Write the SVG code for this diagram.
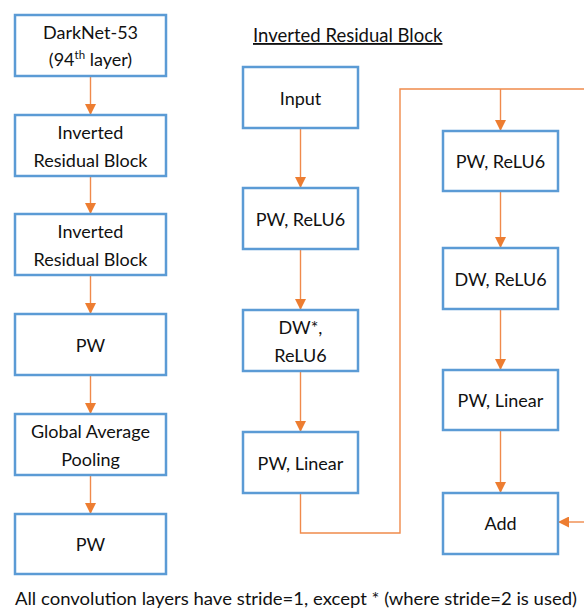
<svg xmlns="http://www.w3.org/2000/svg" width="584" height="615" viewBox="0 0 584 615">
  <defs>
    <marker id="arrow" markerUnits="userSpaceOnUse" markerWidth="11" markerHeight="11" viewBox="0 0 11 11" refX="11" refY="5.5" orient="auto">
      <path d="M0,0 L11,5.5 L0,11 Z" fill="#ED7D31"/>
    </marker>
  </defs>
  <style>
    .box { fill: #ffffff; stroke: #5B9BD5; stroke-width: 2.5; }
    .lbl { font-family: "Lato", "Open Sans", "Liberation Sans", sans-serif; font-size: 18px; fill: #111111; text-anchor: middle; }
    .conn { fill: none; stroke: #F08A4B; stroke-width: 1.4; }
    .arr { marker-end: url(#arrow); }
    .title { font-family: "Lato", "Open Sans", "Liberation Sans", sans-serif; font-size: 18.5px; fill: #111111; text-decoration: underline; }
    .note { font-family: "Lato", "Open Sans", "Liberation Sans", sans-serif; font-size: 18px; fill: #111111; }
  </style>

  <rect width="584" height="615" fill="#ffffff"/>

  <!-- connectors -->
  <g id="connectors">
    <!-- main pipeline -->
    <line class="conn arr" x1="90.5" y1="76" x2="90.5" y2="115"/>
    <line class="conn arr" x1="90.5" y1="176" x2="90.5" y2="214"/>
    <line class="conn arr" x1="90.5" y1="275" x2="90.5" y2="314"/>
    <line class="conn arr" x1="90.5" y1="375" x2="90.5" y2="414"/>
    <line class="conn arr" x1="90.5" y1="475" x2="90.5" y2="514"/>
    <!-- block, first half -->
    <line class="conn arr" x1="300.5" y1="128" x2="300.5" y2="188"/>
    <line class="conn arr" x1="300.5" y1="249" x2="300.5" y2="310"/>
    <line class="conn arr" x1="300.5" y1="371" x2="300.5" y2="432"/>
    <!-- wrap into second half -->
    <path class="conn" d="M300.5,493 V533 H400 V89 H584"/>
    <line class="conn arr" x1="500.5" y1="89" x2="500.5" y2="131"/>
    <!-- block, second half -->
    <line class="conn arr" x1="500.5" y1="191" x2="500.5" y2="248"/>
    <line class="conn arr" x1="500.5" y1="309" x2="500.5" y2="370"/>
    <line class="conn arr" x1="500.5" y1="430" x2="500.5" y2="493"/>
    <!-- skip connection into Add -->
    <line class="conn arr" x1="584" y1="522" x2="558" y2="522"/>
  </g>

  <!-- main pipeline -->
  <g id="darknet">
    <rect class="box" x="15" y="15" width="151" height="61"/>
    <text class="lbl" x="90.5" y="39">DarkNet-53</text>
    <text class="lbl" x="90.5" y="66">(94<tspan font-size="11.5" dy="-7">th</tspan><tspan dy="7"> layer)</tspan></text>
  </g>
  <g id="irb1">
    <rect class="box" x="15" y="115" width="151" height="61"/>
    <text class="lbl" x="90.5" y="139">Inverted</text>
    <text class="lbl" x="90.5" y="167">Residual Block</text>
  </g>
  <g id="irb2">
    <rect class="box" x="15" y="214" width="151" height="61"/>
    <text class="lbl" x="90.5" y="238">Inverted</text>
    <text class="lbl" x="90.5" y="266">Residual Block</text>
  </g>
  <g id="pw1">
    <rect class="box" x="15" y="314" width="151" height="61"/>
    <text class="lbl" x="90.5" y="352">PW</text>
  </g>
  <g id="gap">
    <rect class="box" x="15" y="414" width="151" height="61"/>
    <text class="lbl" x="90.5" y="438">Global Average</text>
    <text class="lbl" x="90.5" y="466">Pooling</text>
  </g>
  <g id="pw2">
    <rect class="box" x="15" y="514" width="151" height="60"/>
    <text class="lbl" x="90.5" y="551">PW</text>
  </g>

  <!-- block title -->
  <text class="title" x="253" y="42">Inverted Residual Block</text>

  <!-- block, first half -->
  <g id="input">
    <rect class="box" x="243" y="67" width="115" height="61"/>
    <text class="lbl" x="300.5" y="105">Input</text>
  </g>
  <g id="pw-relu6-a">
    <rect class="box" x="243" y="188" width="115" height="61"/>
    <text class="lbl" x="300.5" y="226">PW, ReLU6</text>
  </g>
  <g id="dw-stride2">
    <rect class="box" x="243" y="310" width="115" height="61"/>
    <text class="lbl" x="300.5" y="334">DW*,</text>
    <text class="lbl" x="300.5" y="362">ReLU6</text>
  </g>
  <g id="pw-linear-a">
    <rect class="box" x="243" y="432" width="115" height="61"/>
    <text class="lbl" x="300.5" y="470">PW, Linear</text>
  </g>

  <!-- block, second half -->
  <g id="pw-relu6-b">
    <rect class="box" x="443" y="131" width="115" height="60"/>
    <text class="lbl" x="500.5" y="168">PW, ReLU6</text>
  </g>
  <g id="dw-relu6">
    <rect class="box" x="443" y="248" width="115" height="61"/>
    <text class="lbl" x="500.5" y="286">DW, ReLU6</text>
  </g>
  <g id="pw-linear-b">
    <rect class="box" x="443" y="370" width="115" height="60"/>
    <text class="lbl" x="500.5" y="407">PW, Linear</text>
  </g>
  <g id="add">
    <rect class="box" x="443" y="493" width="115" height="61"/>
    <text class="lbl" x="500.5" y="530">Add</text>
  </g>

  <!-- footnote -->
  <text class="note" x="15" y="605" textLength="562" lengthAdjust="spacingAndGlyphs">All convolution layers have stride=1, except * (where stride=2 is used)</text>
</svg>
